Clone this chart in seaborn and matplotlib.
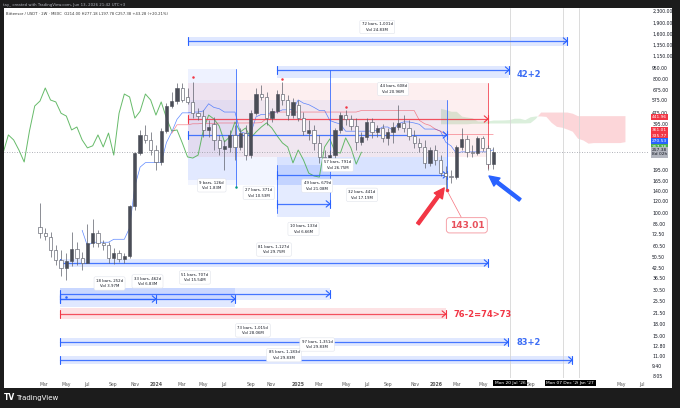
import numpy as np
import pandas as pd
import matplotlib
matplotlib.use('Agg')
import matplotlib.pyplot as plt
import matplotlib.transforms as mtransforms
from matplotlib.patches import Rectangle
from matplotlib.ticker import FixedLocator, NullLocator
import seaborn as sns

sns.set_theme(style='white')
plt.rcParams['font.family'] = ['DejaVu Sans']

# Bittensor / USDT, 2W candles (MEXC)
opens = [81, 74, 69, 57, 48.5, 42.5, 48, 57.5, 50, 46.3, 63, 73.6, 63, 61, 50, 54, 49.3, 51.6, 111, 254,
         336, 311, 266, 221, 357, 526, 568, 695, 600, 560, 470, 450, 363, 400, 311, 271, 279, 336, 279, 346,
         246, 470, 633, 605, 436, 485, 633, 577, 457, 534, 436, 346, 363, 297, 239, 235, 246, 363, 457, 430,
         386, 302, 326, 411, 352, 374, 321, 352, 380, 405, 374, 331, 297, 279, 218, 266, 228, 186, 178, 175,
         279, 316, 258, 254, 321, 275, 214]
highs = [118, 80, 75, 61, 57, 54, 75, 64, 55, 85, 92, 77, 66, 64, 58, 56.6, 54, 114, 258, 363,
         392, 352, 288, 374, 552, 653, 751, 751, 695, 763, 510, 494, 424, 443, 336, 311, 363, 392, 374, 392,
         494, 695, 728, 653, 510, 673, 763, 623, 597, 577, 480, 424, 392, 336, 266, 266, 374, 477, 494, 457,
         436, 352, 436, 436, 392, 398, 374, 411, 534, 457, 424, 363, 321, 311, 279, 288, 246, 208, 195, 288,
         374, 336, 288, 331, 331, 288, 277.18]
lows = [68, 66, 51, 45, 38, 35.6, 44, 45, 41.6, 46, 59, 59, 56.6, 46, 45.6, 47, 46.3, 50, 105, 246,
        297, 246, 195, 211, 346, 510, 543, 560, 543, 436, 424, 326, 326, 266, 246, 195, 258, 228, 266, 228,
        235, 457, 577, 392, 411, 470, 534, 424, 436, 420, 336, 311, 266, 218, 218, 221, 228, 346, 392, 363,
        266, 288, 311, 321, 326, 302, 288, 297, 363, 352, 311, 275, 258, 202, 208, 211, 178, 143.01, 160, 170,
        266, 239, 239, 246, 262, 195, 197.78]
closes = [74, 70, 57, 48.5, 43, 48, 57.5, 50, 46.3, 63, 73.6, 63, 61, 50, 54, 49.3, 51.6, 111, 254, 336,
          311, 266, 221, 357, 526, 568, 695, 577, 560, 470, 450, 363, 380, 311, 275, 284, 336, 279, 346, 246,
          470, 633, 605, 436, 485, 633, 577, 457, 560, 436, 357, 363, 297, 239, 235, 246, 363, 457, 430, 386,
          302, 326, 411, 352, 374, 321, 352, 380, 405, 374, 331, 297, 279, 218, 266, 228, 186, 178, 175, 279,
          316, 258, 254, 321, 275, 214, 257.38]

price_ticks = [2300, 1900, 1600, 1350, 1150, 950, 800, 675, 575, 475, 395, 195, 165, 140, 120, 100, 85,
               72.5, 60.5, 50.5, 42.5, 36.5, 30.5, 25.5, 21.5, 18, 15, 12.8, 11, 9.4, 8.05]
xtick_pos = [0.76, 4.93, 8.92, 13.85, 18.03, 22.0, 26.9, 30.9, 34.9, 40.0, 43.8, 49.0, 52.9, 58.1, 62.0,
             66.0, 71.2, 75.1, 79.1, 84.1, 93.2, 110.2, 114.2]
xtick_labels = ['Mar', 'May', 'Jul', 'Sep', 'Nov', '2024', 'Mar', 'May', 'Jul', 'Sep', 'Nov', '2025', 'Mar',
                'May', 'Jul', 'Sep', 'Nov', '2026', 'Mar', 'May', 'Sep', 'May', 'Jul']

# date ranges: start bar, end bar, low, high, arrow level, colour, fill alpha
ranges = [
    (28.1, 100.0, 1332, 1531, 1439, 'b', 0.14),
    (45.0, 89.0, 811, 977, 918, 'b', 0.14),
    (28.1, 37.2, 167, 933, None, 'b', 0.08),
    (28.1, 85.0, 239, 751, 430, 'r', 0.08),
    (28.1, 77.2, 155, 577, 336, 'b', 0.06),
    (45.0, 77.2, 155, 239, 181, 'b', 0.12),
    (45.0, 55.0, 94.4, 211, 115.5, 'b', 0.12),
    (3.8, 85.0, 43.5, 49.3, 46.3, 'b', 0.14),
    (3.8, 22.0, 23.4, 31.4, 26.5, 'b', 0.0),
    (3.8, 37.0, 23.4, 31.4, 26.5, 'b', 0.14),
    (3.8, 55.0, 26.1, 31.4, 28.7, 'b', 0.12),
    (3.8, 77.0, 19.5, 23.1, 21.0, 'r', 0.14),
    (3.8, 88.8, 12.8, 14.5, 13.6, 'b', 0.14),
    (3.8, 101.0, 9.7, 11.0, 10.3, 'b', 0.14),
]
range_labels = [
    (64.0, 1787, '72 bars, 1,001d\nVol 24.83M'),
    (67.0, 684, '44 bars, 608d\nVol 20.96M'),
    (32.6, 154, '9 bars, 126d\nVol 1.83M'),
    (56.5, 211, '57 bars, 791d\nVol 26.75M'),
    (52.6, 153, '49 bars, 679d\nVol 21.08M'),
    (41.5, 137, '27 bars, 371d\nVol 10.53M'),
    (61.1, 133, '32 bars, 441d\nVol 17.19M'),
    (50.0, 78.4, '10 bars, 133d\nVol 6.66M'),
    (44.4, 57.0, '81 bars, 1,127d\nVol 29.75M'),
    (13.2, 33.7, '18 bars, 252d\nVol 3.97M'),
    (20.4, 34.8, '33 bars, 462d\nVol 6.83M'),
    (29.4, 37.0, '51 bars, 707d\nVol 15.54M'),
    (40.4, 16.3, '73 bars, 1,015d\nVol 28.06M'),
    (46.3, 11.1, '85 bars, 1,183d\nVol 29.83M'),
    (52.6, 13.1, '97 bars, 1,351d\nVol 29.83M'),
]
edge_lines = [(37.2, 151, 933, 'b'), (55.0, 123, 918, 'b'), (77.2, 143, 577, 'b'),
              (85.0, 202, 751, 'r'), (45.0, 100, 211, 'b')]
pivot_dots = [(29.0, 824, '#f23645'), (46.0, 799, '#f23645'), (58.0, 518, '#f23645'),
              (37.2, 151, '#089981'), (4.9, 27.4, '#2962ff')]
scale_labels = [(444, '441.96', '#f23645', 'white'), (363, '361.01', '#f23645', 'white'),
                (333, '335.77', '#f23645', 'white'), (306, '270.53', '#2962ff', 'white'),
                (279, '257.38', '#4caf50', 'white'), (257.38, '257.38\n8d 02h', '#b2b5be', '#131722')]
time_marks = [89.2, 99.2, 102.3]
time_mark_labels = [(89.2, "Mon 20 Jul '26"), (99.2, "Mon 07 Dec '26"), (103.8, "Jan '27")]

COL = {'b': '#2962ff', 'r': '#f23645'}

ohlc = pd.DataFrame({'open': opens, 'high': highs, 'low': lows, 'close': closes})
n = len(ohlc)
bars = np.arange(n)

# ichimoku
shift = 25
tenkan = (ohlc['high'].rolling(9).max() + ohlc['low'].rolling(9).min()) / 2
kijun = (ohlc['high'].rolling(26).max() + ohlc['low'].rolling(26).min()) / 2
span_a = (tenkan + kijun) / 2
span_b = (ohlc['high'].rolling(52).max() + ohlc['low'].rolling(52).min()) / 2

fig = plt.figure(figsize=(6.8, 4.08), dpi=100, facecolor='#1c1c1c')
fig.patches.append(Rectangle((4 / 680, 20 / 408), 668 / 680, 380 / 408, transform=fig.transFigure,
                             facecolor='white', edgecolor='none', zorder=-1))
ax = fig.add_axes([4 / 680, 30 / 408, 644 / 680, 370 / 408])
ax.set_facecolor('white')
ax.set_yscale('log')

# cloud
cl = span_b.notna()
cx = bars[cl] + shift
ax.fill_between(cx, span_a[cl], span_b[cl], where=(span_a[cl] >= span_b[cl]).values,
                color='#4caf50', alpha=0.2, lw=0, interpolate=True, zorder=1)
ax.fill_between(cx, span_a[cl], span_b[cl], where=(span_a[cl] < span_b[cl]).values,
                color='#f23645', alpha=0.2, lw=0, interpolate=True, zorder=1)

# lines
sns.lineplot(x=bars - shift, y=ohlc['close'], ax=ax, color='#4caf50', linewidth=0.7, alpha=0.85,
             estimator=None, sort=False, legend=False, zorder=2)
t = tenkan.notna()
sns.lineplot(x=bars[t], y=tenkan[t], ax=ax, color='#2962ff', linewidth=0.5, alpha=0.75,
             estimator=None, sort=False, legend=False, zorder=2)
k = kijun.notna()
sns.lineplot(x=bars[k], y=kijun[k], ax=ax, color='#f23645', linewidth=0.5, alpha=0.6,
             estimator=None, sort=False, legend=False, zorder=2)

# date ranges
for x0, x1, lo, hi, mid, c, a in ranges:
    col = COL[c]
    if a > 0:
        ax.fill_between([x0, x1], lo, hi, color=col, alpha=a, lw=0, zorder=1)
    if mid is None:
        continue
    ax.plot([x0, x1], [mid, mid], color=col, lw=0.9, alpha=0.85, zorder=3)
    ax.plot([x0, x0], [mid / 1.06, mid * 1.06], color=col, lw=0.8, zorder=3)
    ax.plot([x1, x1], [mid / 1.06, mid * 1.06], color=col, lw=0.8, zorder=3)
    ax.plot([x1 - 0.7, x1, x1 - 0.7], [mid * 1.05, mid, mid / 1.05], color=col, lw=0.8, zorder=3)

for x, lo, hi, c in edge_lines:
    ax.plot([x, x], [lo, hi], color=COL[c], lw=0.7, alpha=0.8, zorder=3)

# candles
o = ohlc['open'].values
c_ = ohlc['close'].values
up = c_ > o
blo = np.minimum(o, c_)
bhi = np.maximum(o, c_)
ax.vlines(bars, ohlc['low'], ohlc['high'], color='#5d606b', lw=0.5, zorder=4)
ax.bar(bars[up], (bhi - blo)[up], bottom=blo[up], width=0.62, color='#4a4d57',
       edgecolor='#4a4d57', lw=0.4, zorder=5)
ax.bar(bars[~up], (bhi - blo)[~up], bottom=blo[~up], width=0.62, color='white',
       edgecolor='#5d606b', lw=0.45, zorder=5)

for x, y, col in pivot_dots:
    ax.plot(x, y, 'o', ms=1.8, color=col, mec='none', zorder=6)

ax.axhline(closes[-1], color='#9598a1', lw=0.6, ls=(0, (1, 2)), zorder=2)
for x in time_marks:
    ax.axvline(x, color='#d6d6d6', lw=0.6, zorder=1)

for xc, yc, txt in range_labels:
    ax.text(xc, yc, txt, ha='center', va='center', fontsize=2.8, color='#131722', linespacing=1.5,
            bbox=dict(boxstyle='round,pad=0.5,rounding_size=0.4', fc='white', ec='#e0e3eb', lw=0.4),
            zorder=8)

ax.text(90.5, 863, '42+2', fontsize=6, weight='bold', color='#3d6ef5', va='center', zorder=8)
ax.text(90.5, 13.6, '83+2', fontsize=6, weight='bold', color='#3d6ef5', va='center', zorder=8)
ax.text(78.4, 20.7, '76-2=74>73', fontsize=6, weight='bold', color='#f23645', va='center', zorder=8)

# low callout
ax.plot([77.2, 80.0], [143.01, 93], color='#f23645', lw=0.5, alpha=0.7, zorder=7)
ax.plot(77.2, 143.01, 'o', ms=1.5, color='#f23645', zorder=7)
ax.text(81.0, 83, '143.01', ha='center', va='center', fontsize=6.5, weight='bold', color='#e8505b',
        bbox=dict(boxstyle='round,pad=0.35', fc='white', ec='#f5a3aa', lw=0.7), zorder=8)
ax.annotate('', xy=(76.7, 148), xytext=(71.7, 84.7),
            arrowprops=dict(arrowstyle='simple,head_length=0.9,head_width=0.9,tail_width=0.28',
                            color='#f23645', mutation_scale=8, shrinkA=0, shrinkB=0), zorder=8)
ax.annotate('', xy=(85.2, 178), xytext=(91.1, 123),
            arrowprops=dict(arrowstyle='simple,head_length=0.9,head_width=0.9,tail_width=0.28',
                            color='#2962ff', mutation_scale=8, shrinkA=0, shrinkB=0), zorder=8)

# axes
ax.set_xlim(-6.83, 115.37)
ax.set_ylim(7.80, 2398)
ax.yaxis.tick_right()
ax.yaxis.set_major_locator(FixedLocator(price_ticks))
ax.yaxis.set_minor_locator(NullLocator())
ax.set_yticklabels([f'{v:,.2f}' for v in price_ticks])
ax.tick_params(axis='y', length=0, pad=3, labelsize=3.3, labelcolor='#131722')
ax.set_xticks(xtick_pos)
ax.set_xticklabels(xtick_labels)
ax.tick_params(axis='x', length=0, pad=3, labelsize=3.3, labelcolor='#555555')
for lab in ax.get_xticklabels():
    if lab.get_text().isdigit():
        lab.set_fontweight('bold')
ax.set_xlabel('')
ax.set_ylabel('')
ax.grid(False)
for s in ax.spines.values():
    s.set_visible(False)

ytr = mtransforms.blended_transform_factory(ax.transAxes, ax.transData)
for y, txt, bg, fg in scale_labels:
    ax.text(1.006, y, txt, transform=ytr, ha='left', va='center', fontsize=3.2, color=fg,
            linespacing=1.2, bbox=dict(boxstyle='square,pad=0.3', fc=bg, ec='none'), zorder=9,
            clip_on=False)

xtr = mtransforms.blended_transform_factory(ax.transData, ax.transAxes)
for x, txt in time_mark_labels:
    ax.text(x, -0.0135, txt, transform=xtr, ha='center', va='center', fontsize=3.2, color='white',
            bbox=dict(boxstyle='square,pad=0.3', fc='black', ec='none'), zorder=9, clip_on=False)

fig.text(3 / 680, 1 - 5 / 408, 'tay_ created with TradingView.com, Jun 13, 2026 21:42 UTC+3',
         fontsize=2.8, color='#b2b5be', va='center')
fig.text(6 / 680, 1 - 14 / 408,
         'Bittensor / USDT \u00b7 2W \u00b7 MEXC  O214.00 H277.18 L197.78 C257.38 +43.28 (+20.21%)',
         fontsize=2.7, color='#333333', va='center')
fig.text(4 / 680, 10 / 408, 'TV', fontsize=5.5, weight='heavy', color='white', va='center')
fig.text(16 / 680, 10 / 408, 'TradingView', fontsize=5, color='white', va='center')

fig.savefig('out.png', dpi=100, facecolor=fig.get_facecolor())
